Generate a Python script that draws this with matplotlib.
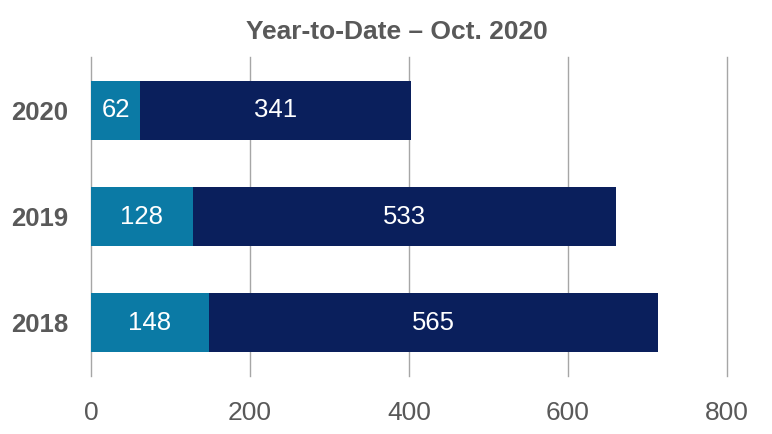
import matplotlib
matplotlib.use("Agg")
import matplotlib.pyplot as plt

years = ["2018", "2019", "2020"]
first_part = [148, 128, 62]
second_part = [565, 533, 341]
x_ticks = [0, 200, 400, 600, 800]

LIGHT = "#0b7aa5"
DARK = "#0a1f5c"
GREY = "#595959"

plt.rcParams['font.family'] = ['Liberation Sans', 'DejaVu Sans']

fig = plt.figure(figsize=(7.72, 4.34), dpi=100)
ax = fig.add_axes([0.1179, 0.1336, 0.8238, 0.7351])

pos = range(len(years))
ax.barh(pos, first_part, height=0.555, color=LIGHT, zorder=3)
ax.barh(pos, second_part, left=first_part, height=0.555, color=DARK, zorder=3)

for i, (a, b) in enumerate(zip(first_part, second_part)):
    ax.text(a / 2, i, str(a), ha='center', va='center', color='white', fontsize=18.5, zorder=4)
    ax.text(a + b / 2, i, str(b), ha='center', va='center', color='white', fontsize=18.5, zorder=4)

ax.set_xlim(0, 800)
ax.set_ylim(-0.5, 2.5)
ax.set_xticks(x_ticks)
ax.set_xticklabels([str(t) for t in x_ticks], fontsize=19, color=GREY)
ax.set_yticks(list(pos))
ax.set_yticklabels(years, fontsize=18.5, fontweight='bold', color=GREY)
ax.tick_params(length=0)
ax.tick_params(axis='x', pad=18)
ax.tick_params(axis='y', pad=16.5)
for s in ax.spines.values():
    s.set_visible(False)
ax.grid(axis='x', color='#a6a6a6', linewidth=1, zorder=0)
for gl in ax.get_xgridlines():
    gl.set_clip_on(False)

fig.suptitle("Year-to-Date \u2013 Oct. 2020", x=0.514, y=0.955, fontsize=19, fontweight='bold',
             color=GREY)

fig.savefig("out.png", dpi=100)
